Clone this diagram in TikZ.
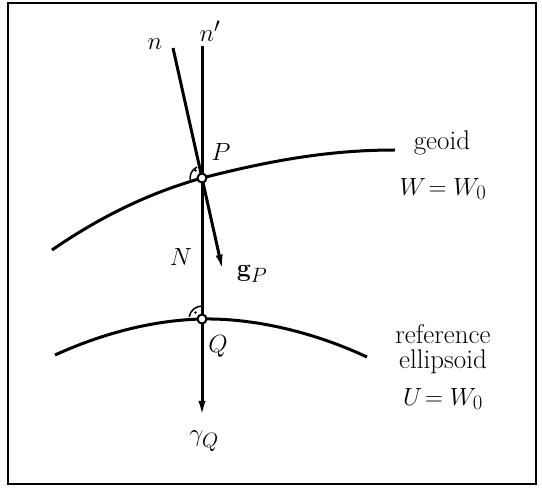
\documentclass[tikz,border=0pt]{standalone}
\usetikzlibrary{arrows.meta,calc}
\begin{document}
\begin{tikzpicture}[x=1pt,y=-1pt,
  curve/.style={line width=3pt},
  axis/.style={line width=3pt},
  tip/.style={-{Latex[length=17pt,width=7pt]}},
  pt/.style={circle,draw,fill=white,line width=2pt,inner sep=0pt,minimum size=9pt},
  lbl/.style={inner sep=0pt,font=\fontsize{32}{36}\selectfont},
  txt/.style={inner sep=0pt,font=\fontsize{27}{30}\selectfont},
  rangle/.style={line width=1.5pt}]
\useasboundingbox (0,0) rectangle (542,489);
\draw[line width=2.4pt] (8,3) rectangle (536,484);
% points
\coordinate (P) at (202,178);
\coordinate (Q) at (202,319);
\coordinate (ntop) at (173,48);
\coordinate (nptop) at (202,46);
% curves
\draw[curve] (52,250) .. controls (110,210) and (160,190) .. (P)
  .. controls (265,162) and (325,150) .. (395,150);
\draw[curve] (55,355) .. controls (110,330) and (160,320) .. (Q)
  .. controls (260,318) and (320,335) .. (367,357);
% normals
\draw[axis] (ntop) -- (P);
\draw[axis,tip] (P) -- ($(P)!-0.72!(ntop)$) coordinate (gp);
\draw[axis,tip] (nptop) -- (202,418) coordinate (gam);
% right angle markers
\draw[rangle] ($(P)+(-5,-11)$) arc[start angle=115,end angle=200,radius=12pt];
\fill ($(P)+(-6.5,-7.5)$) circle (1.4pt);
\draw[rangle] ($(Q)+(0,-13)$) arc[start angle=90,end angle=170,radius=13pt];
\fill ($(Q)+(-6.5,-6.5)$) circle (1.4pt);
\node[pt] at (P) {};
\node[pt] at (Q) {};
% labels
\node[lbl] (lnp) at (210,31) {$n'$};
\node[lbl] (ln) at (155,44) {$n$};
\node[lbl] (lP) at (221,152) {$P$};
\node[lbl] (lN) at (181,257) {$N$};
\node[lbl] (lg) at (252,274) {$\mathbf{g}_P$};
\node[lbl] (lQ) at (218,346) {$Q$};
\node[lbl] (lgam) at (204,441) {$\gamma_Q$};
\node[txt] (geo) at (442,143) {geoid};
\node[lbl] (W) at (443,189) {$W\!=W_0$};
\node[txt] (ref) at (443,334) {reference};
\node[txt] (ell) at (443,362) {ellipsoid};
\node[lbl] (U) at (443,399) {$U\!=W_0$};
\end{tikzpicture}
\end{document}
